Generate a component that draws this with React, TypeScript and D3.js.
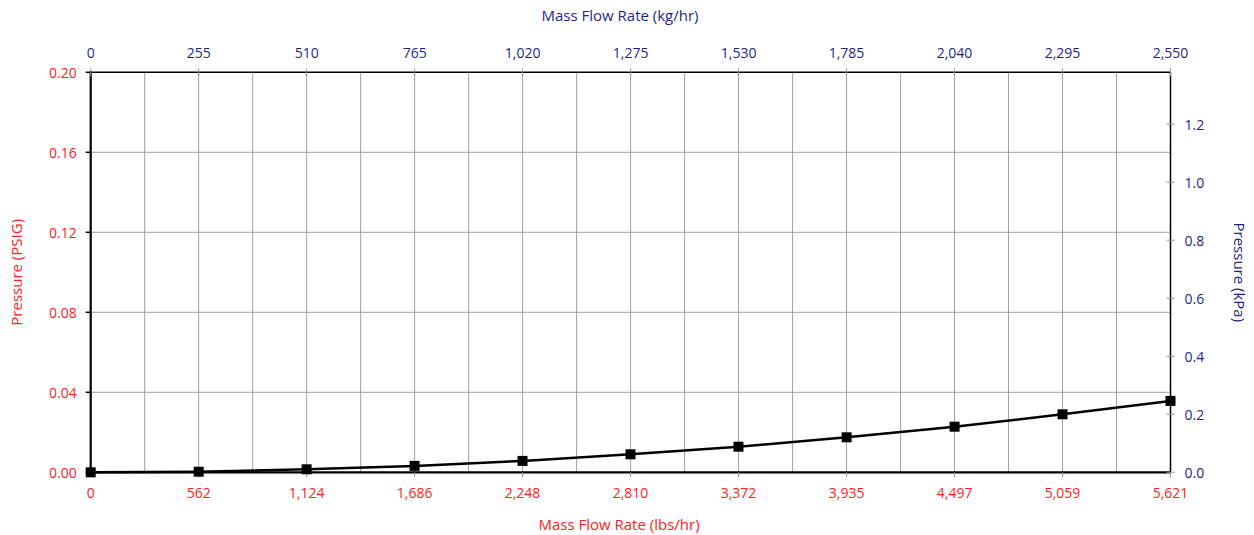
import React from "react";
import * as d3 from "d3";

const flowLbs = [0, 562, 1124, 1686, 2248, 2810, 3372, 3935, 4497, 5059, 5621];
const pressurePsig = [0, 0.0003, 0.0015, 0.0032, 0.0057, 0.009, 0.0128, 0.0175, 0.0228, 0.029, 0.0357];
const bottomTicks = [0, 562, 1124, 1686, 2248, 2810, 3372, 3935, 4497, 5059, 5621];
const topTicks = [0, 255, 510, 765, 1020, 1275, 1530, 1785, 2040, 2295, 2550];
const leftTicks = [0, 0.04, 0.08, 0.12, 0.16, 0.2];
const rightTicks = [0, 0.2, 0.4, 0.6, 0.8, 1.0, 1.2];

const W = 1254, H = 535;
const L = 90.7, R = 1170.5, T = 72.3, B = 472.3;
const RED = "#ff2020";
const NAVY = "#1f1f8c";
const FONT = "'Open Sans', sans-serif";

export default function App() {
  const x = d3.scaleLinear().domain([0, 5621]).range([L, R]);
  const xTop = d3.scaleLinear().domain([0, 2550]).range([L, R]);
  const y = d3.scaleLinear().domain([0, 0.2]).range([B, T]);
  const yR = d3.scaleLinear().domain([0, 0.2 * 6.894757]).range([B, T]);
  const fmtC = d3.format(",");
  const line = d3.line<number>().x((_, i) => x(flowLbs[i])).y((d) => y(d));
  const minorX = d3.range(0, 21).map((i) => (5621 * i) / 20);

  return (
    <div style={{ position: "absolute", left: 0, top: 0 }}>
      <svg width={W} height={H} style={{ display: "block", background: "#fff" }} fontFamily={FONT}>
        {minorX.slice(1, -1).map((v, i) => (
          <line key={"vg" + i} x1={x(v)} x2={x(v)} y1={T} y2={B} stroke="#a0a0a0" strokeWidth={1} />
        ))}
        {leftTicks.slice(1, -1).map((v, i) => (
          <line key={"hg" + i} x1={L} x2={R} y1={y(v)} y2={y(v)} stroke="#a0a0a0" strokeWidth={1} />
        ))}
        <line x1={L} x2={R} y1={T} y2={T} stroke="#000" strokeWidth={1.5} />
        <line x1={R} x2={R} y1={T} y2={B} stroke="#000" strokeWidth={1.5} />
        <line x1={L} x2={L} y1={T - 1} y2={B + 1} stroke="#000" strokeWidth={2.2} />
        <line x1={L - 1} x2={R} y1={B} y2={B} stroke="#000" strokeWidth={2.2} />
        {leftTicks.map((v, i) => (
          <g key={"lt" + i}>
            <line x1={L - 5} x2={L} y1={y(v)} y2={y(v)} stroke="#000" strokeWidth={1.5} />
            <text x={L - 14} y={y(v)} textAnchor="end" dominantBaseline="central" fill={RED} fontSize={14}>
              {v.toFixed(2)}
            </text>
          </g>
        ))}
        {rightTicks.map((v, i) => (
          <g key={"rt" + i}>
            <line x1={R - 4} x2={R + 4} y1={yR(v)} y2={yR(v)} stroke="#999" strokeWidth={1} />
            <text x={R + 14} y={yR(v)} textAnchor="start" dominantBaseline="central" fill={NAVY} fontSize={14}>
              {v.toFixed(1)}
            </text>
          </g>
        ))}
        {bottomTicks.map((v, i) => (
          <g key={"bt" + i}>
            <line x1={x(v)} x2={x(v)} y1={B} y2={B + 5} stroke="#999" strokeWidth={1} />
            <text x={x(v)} y={492} textAnchor="middle" dominantBaseline="central" fill={RED} fontSize={14}>
              {fmtC(v)}
            </text>
          </g>
        ))}
        {topTicks.map((v, i) => (
          <g key={"tt" + i}>
            <line x1={xTop(v)} x2={xTop(v)} y1={T - 4} y2={T + 4} stroke="#999" strokeWidth={1} />
            <text x={xTop(v)} y={52} textAnchor="middle" dominantBaseline="central" fill={NAVY} fontSize={14}>
              {fmtC(v)}
            </text>
          </g>
        ))}
        <text x={620} y={15} textAnchor="middle" dominantBaseline="central" fill={NAVY} fontSize={15}>
          Mass Flow Rate (kg/hr)
        </text>
        <text x={619} y={524} textAnchor="middle" dominantBaseline="central" fill={RED} fontSize={15}>
          Mass Flow Rate (lbs/hr)
        </text>
        <text
          transform={`translate(16,${(T + B) / 2}) rotate(-90)`}
          textAnchor="middle"
          dominantBaseline="central"
          fill={RED}
          fontSize={15}
        >
          Pressure (PSIG)
        </text>
        <text
          transform={`translate(1240,${(T + B) / 2}) rotate(90)`}
          textAnchor="middle"
          dominantBaseline="central"
          fill={NAVY}
          fontSize={15}
        >
          Pressure (kPa)
        </text>
        <path d={line(pressurePsig) || ""} fill="none" stroke="#000" strokeWidth={2.5} />
        {pressurePsig.map((v, i) => (
          <rect key={"m" + i} x={x(flowLbs[i]) - 5} y={y(v) - 5} width={10} height={10} fill="#000" />
        ))}
      </svg>
    </div>
  );
}
